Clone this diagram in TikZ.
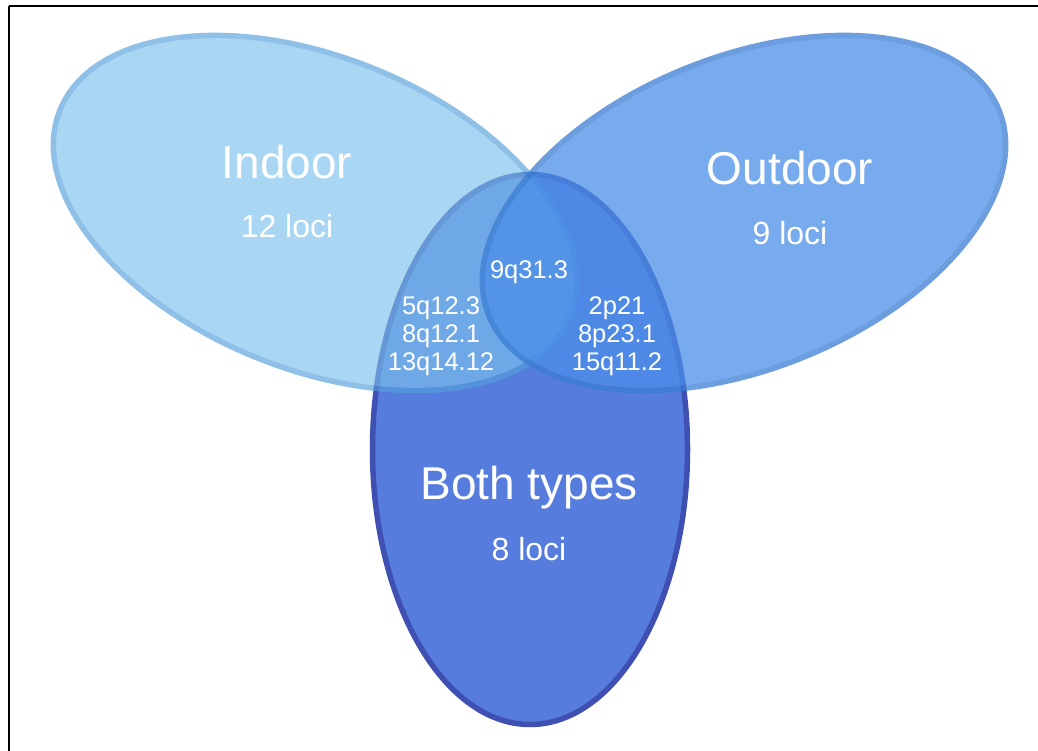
\documentclass[tikz,border=0pt]{standalone}
\usepackage{fontspec}
\setmainfont{Liberation Sans}
\definecolor{indoorfill}{RGB}{123,192,237}
\definecolor{indoorline}{RGB}{83,158,220}
\definecolor{outdoorfill}{RGB}{75,142,232}
\definecolor{outdoorline}{RGB}{59,124,211}
\definecolor{bothfill}{RGB}{86,124,221}
\definecolor{bothline}{RGB}{63,80,178}
\tikzset{
  setshape/.style={line width=5.5pt},
  title/.style={text=white, inner sep=0pt, anchor=base, font=\fontsize{46}{50}\selectfont},
  count/.style={text=white, inner sep=0pt, anchor=base, font=\fontsize{32}{36}\selectfont},
  locus/.style={text=white, inner sep=0pt, anchor=base, font=\fontsize{25.5}{28}\selectfont},
  frameline/.style={line width=2.5pt, black}
}
\begin{document}
\begin{tikzpicture}[x=1pt,y=-1pt]
\useasboundingbox (0,0) rectangle (1038,751);
% outer frame (top and left edges)
\draw[frameline] (9,6) -- (1038,6);
\draw[frameline] (9,6) -- (9,751);
% both types
\draw[setshape, fill=bothfill, draw=bothline] (530,449.5) ellipse [x radius=157.5pt, y radius=275pt];
% indoor
\begin{scope}[transparency group, opacity=0.65]
\draw[setshape, fill=indoorfill, draw=indoorline, rotate around={-22:(315,213)}]
  (315,213) ellipse [x radius=275pt, y radius=156pt];
\end{scope}
% outdoor
\begin{scope}[transparency group, opacity=0.75]
\draw[setshape, fill=outdoorfill, draw=outdoorline, rotate around={22:(744,213)}]
  (744,213) ellipse [x radius=275pt, y radius=156pt];
\end{scope}
% set titles and counts
\node[title] (indoor) at (287,179) {Indoor};
\node[count] (indoorn) at (287,237.5) {12 loci};
\node[title] (outdoor) at (790,185) {Outdoor};
\node[count] (outdoorn) at (790,244.5) {9 loci};
\node[title] (both) at (529,499) {Both types};
\node[count] (bothn) at (529,560.5) {8 loci};
% shared loci
\node[locus] (c1) at (529,279) {9q31.3};
\node[locus] (l1) at (441,314) {5q12.3};
\node[locus] (l2) at (441,342) {8q12.1};
\node[locus] (l3) at (441,370) {13q14.12};
\node[locus] (r1) at (617,314) {2p21};
\node[locus] (r2) at (617,342) {8p23.1};
\node[locus] (r3) at (617,370) {15q11.2};
\end{tikzpicture}
\end{document}
